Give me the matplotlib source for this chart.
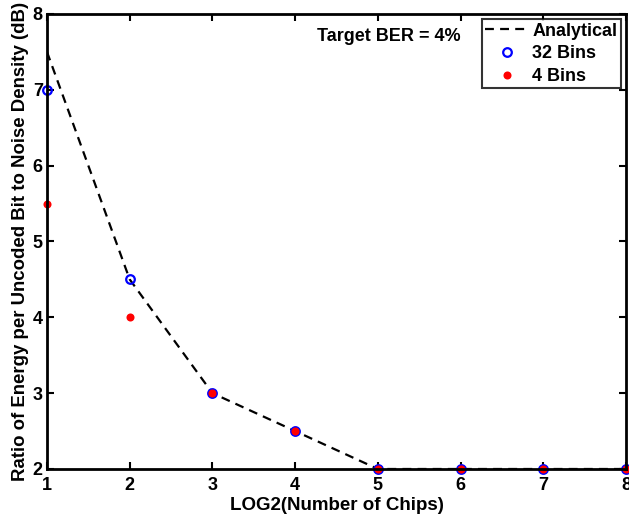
import matplotlib
matplotlib.use('Agg')
import matplotlib.pyplot as plt

plt.rcParams['font.family'] = ['Liberation Sans', 'DejaVu Sans']
plt.rcParams['font.weight'] = 'bold'

# log2 of number of chips
x = [1, 2, 3, 4, 5, 6, 7, 8]
analytical = [7.5, 4.5, 3.0, 2.5, 2.0, 2.0, 2.0, 2.0]
bins32 = [7.0, 4.5, 3.0, 2.5, 2.0, 2.0, 2.0, 2.0]
bins4 = [5.5, 4.0, 3.0, 2.5, 2.0, 2.0, 2.0, 2.0]

fig = plt.figure(figsize=(6.29, 5.16), dpi=100)
ax = fig.add_axes([0.0747, 0.0911, 0.9205, 0.8818])

ax.plot(x, analytical, 'k--', linewidth=1.6, dashes=(4, 2.8), label='Analytical')
ax.plot(x, bins32, 'o', markerfacecolor='none', markeredgecolor='b',
        markersize=6.2, markeredgewidth=1.6, label='32 Bins', clip_on=False)
ax.plot(x, bins4, 'o', color='r', markersize=5.8, markeredgewidth=0,
        label='4 Bins', clip_on=False)

ax.set_xlim(1, 8)
ax.set_ylim(2, 8)
ax.set_xticks(range(1, 9))
ax.set_yticks(range(2, 9))
ax.tick_params(direction='in', top=True, right=True, length=5, width=1.5,
               labelsize=13)
ax.tick_params(axis='x', pad=6)
ax.tick_params(axis='y', pad=3)
for s in ax.spines.values():
    s.set_linewidth(2)

ax.set_xlabel('LOG2(Number of Chips)', fontsize=13.5, fontweight='bold', labelpad=2)
ax.set_ylabel('Ratio of Energy per Uncoded Bit to Noise Density (dB)',
              fontsize=13.4, fontweight='bold', labelpad=3)

ax.text(4.26, 7.70, 'Target BER = 4%', fontsize=13, fontweight='bold', va='center')

leg = ax.legend(loc='upper right', fontsize=13, frameon=True, fancybox=False,
                edgecolor='k', borderaxespad=0.3, handlelength=2.4,
                handletextpad=0.2, labelspacing=0.32, borderpad=0.18)
leg.get_frame().set_linewidth(1.5)

fig.savefig('out.png', dpi=100)
